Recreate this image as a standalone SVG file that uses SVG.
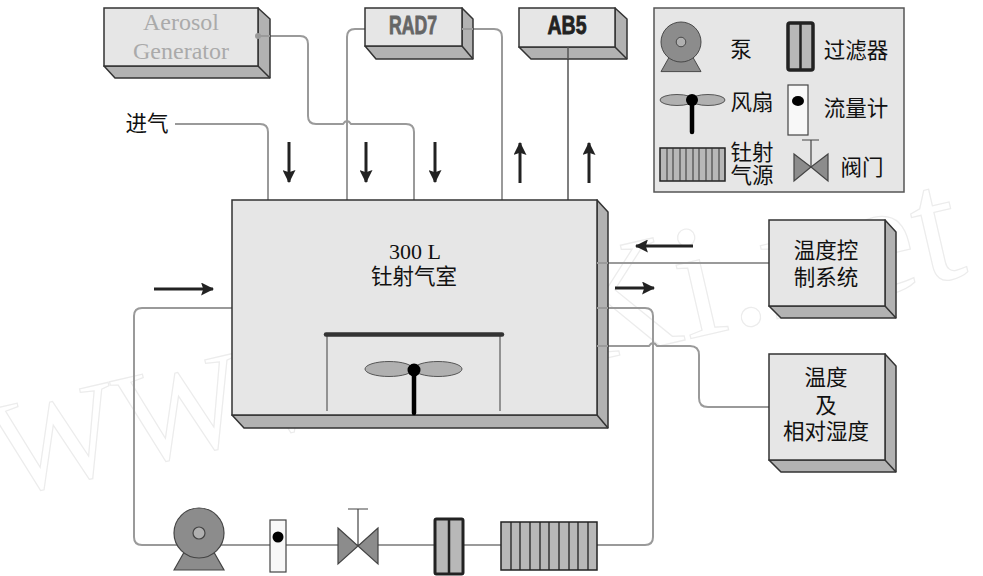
<svg xmlns="http://www.w3.org/2000/svg" width="983" height="576" viewBox="0 0 983 576">
<style>
text{font-family:"Liberation Serif","Noto Sans CJK SC",serif;fill:#111;text-anchor:middle;font-size:21.5px}
.wm{font-size:163px;fill:none;stroke:#ececec;stroke-width:1.2;text-anchor:start;letter-spacing:1px}
.f{fill:#e6e6e6;stroke:#333;stroke-width:1.5}
.s{fill:#b2b2b2;stroke:#333;stroke-width:1.5;stroke-linejoin:round}
.p{fill:none;stroke:#9a9a9a;stroke-width:2}
.a{fill:none;stroke:#222;stroke-width:3}
.g{fill:#8c8c8c;stroke:#444;stroke-width:1.2}
.c{fill:#b8b8b8;stroke:#222;stroke-width:1.5}
.lb{font-family:"Liberation Sans",sans-serif;font-weight:bold;font-size:25px;stroke-width:.8}
</style>
<defs>
<marker id="ah" viewBox="0 0 12 12" refX="11" refY="6" markerWidth="13" markerHeight="13" markerUnits="userSpaceOnUse" orient="auto"><path d="M0 0L12 6L0 12L2 6Z" fill="#222"/></marker>
<g id="pump"><path d="M-25 37L-12 14H12L25 37Z" class="g"/><circle r="25" class="g"/><circle r="6" fill="#b0b0b0" stroke="#444" stroke-width="1.2"/></g>
<g id="meter"><rect x="-8" y="-17" width="16" height="52" fill="#f8f8f8" stroke="#444" stroke-width="1.2"/><ellipse rx="5.5" ry="5.5" fill="#000"/></g>
<g id="valve"><path d="M-20 -18L0 0L-20 18Z M20 -18L0 0L20 18Z" class="g"/><path d="M0 0V-37M-10 -37H10" fill="none" stroke="#444" stroke-width="1.2"/></g>
<g id="filter"><rect x="-14" y="-27" width="28" height="55" rx="1.5" fill="#b8b8b8" stroke="#222" stroke-width="3"/><path d="M0 -27V28" stroke="#222" stroke-width="2.5"/></g>
</defs>
<text class="wm" transform="translate(4 497) rotate(-13)"><tspan style="font-size:135px">WWW</tspan>.cnKi.net</text>
<g id="connectors">
<path class="p" d="M175 124H260Q268 124 268 132V200"/>
<path class="p" d="M258 36H300Q308 36 308 44V116Q308 124 316 124H343Q347 118 351 124H406Q414 124 414 132V200"/>
<path class="p" d="M365 29H355Q347 29 347 37V200"/>
<path class="p" d="M462 29H494Q502 29 502 37V200"/>
<path d="M568 47V200" fill="none" stroke="#555" stroke-width="1.5"/>
<path class="p" d="M232 308H142Q134 308 134 316V537Q134 545 142 545H645Q653 545 653 537V316Q653 308 645 308H597"/>
<path class="p" d="M597 263H769"/>
<path class="p" d="M597 346H649Q653 340 657 346H690Q699 346 699 355V398Q699 407 708 407H769"/>
<path class="a" marker-end="url(#ah)" d="M289 142V182"/>
<path class="a" marker-end="url(#ah)" d="M366 142V182"/>
<path class="a" marker-end="url(#ah)" d="M435 142V182"/>
<path class="a" marker-end="url(#ah)" d="M520 183V143"/>
<path class="a" marker-end="url(#ah)" d="M589 183V143"/>
<path class="a" marker-end="url(#ah)" d="M154 289H213"/>
<path class="a" marker-end="url(#ah)" d="M693 246H636"/>
<path class="a" marker-end="url(#ah)" d="M615 288H654"/>
</g>
<g id="aerosol">
<path class="s" d="M258 8L270 19V78H115L104 66H258Z"/><path class="s" d="M258 66L270 78"/>
<rect class="f" x="104" y="8" width="154" height="58"/>
<text x="181" y="30" style="fill:#aaa;font-size:24px">Aerosol</text><text x="181" y="59" style="fill:#aaa;font-size:24px">Generator</text>
<path d="M258 36H270" stroke="#9a9a9a" stroke-width="2"/>
<circle cx="258" cy="36" r="3" fill="#999"/>
</g>
<g id="rad7">
<path class="s" d="M462 8L473 19V59H376L365 46H462Z"/><path class="s" d="M462 46L473 59"/>
<rect class="f" x="365" y="8" width="97" height="38"/>
<text class="lb" x="413" y="34" textLength="48" lengthAdjust="spacingAndGlyphs" style="fill:#666;stroke:#666">RAD7</text>
<path d="M462 29H473" stroke="#9a9a9a" stroke-width="2"/>
</g>
<g id="ab5">
<path class="s" d="M615 8L627 19V59H531L519 47H615Z"/><path class="s" d="M615 47L627 59"/>
<rect class="f" x="519" y="8" width="96" height="39"/>
<text class="lb" x="567" y="34" textLength="39" lengthAdjust="spacingAndGlyphs" style="fill:#222;stroke:#222">AB5</text>
<path d="M568 47V59" fill="none" stroke="#555" stroke-width="1.5"/>
</g>
<g id="chamber">
<path class="s" d="M597 200L608 212V428H244L232 415H597Z"/><path class="s" d="M597 415L608 428"/>
<rect class="f" x="232" y="200" width="365" height="215"/>
<path d="M597 263H608M597 308H608M597 346H608" stroke="#9a9a9a" stroke-width="2" fill="none"/>
<text x="415" y="259" style="font-size:22px">300 L</text><text x="414" y="284">钍射气室</text>
<path d="M327 334V411M500 334V411" fill="none" stroke="#777" stroke-width="1.5"/>
<path d="M326 334.500H502" stroke="#333" stroke-width="4.500" stroke-linecap="round"/>
<ellipse cx="389" cy="369" rx="24" ry="7.500" fill="#b0b0b0" stroke="#555"/>
<ellipse cx="438" cy="369" rx="24" ry="7.500" fill="#b0b0b0" stroke="#555"/>
<path d="M414 370V413" stroke="#000" stroke-width="4.500" stroke-linecap="round"/>
<circle cx="414" cy="370" r="6.500" fill="#000"/>
</g>
<g id="temp-control">
<path class="s" d="M885 220L896 232V318H781L769 306H885Z"/><path class="s" d="M885 306L896 318"/>
<rect class="f" x="769" y="220" width="116" height="86"/>
<text x="826" y="258">温度控</text><text x="826" y="285">制系统</text>
</g>
<g id="humidity">
<path class="s" d="M885 354L896 366V472H781L769 460H885Z"/><path class="s" d="M885 460L896 472"/>
<rect class="f" x="769" y="354" width="116" height="106"/>
<text x="826" y="385">温度</text><text x="826" y="413">及</text><text x="826" y="439">相对湿度</text>
</g>
<g id="inlet-label"><text x="147" y="131">进气</text></g>
<g id="pump-1"><use href="#pump" x="199" y="533"/></g>
<g id="flowmeter-1"><use href="#meter" x="278" y="537"/></g>
<g id="valve-1"><use href="#valve" x="358" y="546"/></g>
<g id="filter-1"><use href="#filter" x="449" y="546"/></g>
<g id="source-1">
<rect class="c" x="501" y="522" width="96" height="48"/>
<path d="M511 522V570M520 522V570M530 522V570M540 522V570M549 522V570M559 522V570M569 522V570M578 522V570M588 522V570" fill="none" stroke="#222" stroke-width="1.3"/>
</g>
<g id="legend">
<rect x="654" y="8" width="250" height="184" fill="#e6e6e6" stroke="#555" stroke-width="1.5"/>
<use href="#pump" transform="translate(681 42) scale(.8)"/>
<text x="741" y="57">泵</text>
<rect x="788" y="23" width="25" height="47" rx="2" fill="#b8b8b8" stroke="#222" stroke-width="3.500"/>
<path d="M800.500 23V70" stroke="#222" stroke-width="2.500"/>
<text x="856" y="58">过滤器</text>
<ellipse cx="677" cy="100" rx="17" ry="5.500" fill="#b0b0b0" stroke="#555"/>
<ellipse cx="708" cy="100" rx="17" ry="5.500" fill="#b0b0b0" stroke="#555"/>
<path d="M692 100V132" stroke="#000" stroke-width="4.500" stroke-linecap="round"/>
<circle cx="692" cy="100" r="6" fill="#000"/>
<text x="752" y="110">风扇</text>
<rect x="788" y="85" width="20" height="50" fill="#f8f8f8" stroke="#444" stroke-width="1.2"/>
<ellipse cx="798" cy="101" rx="6" ry="5" fill="#000"/>
<text x="856" y="116">流量计</text>
<rect class="c" x="660" y="148" width="65" height="33"/>
<path d="M667 148V181M673 148V181M680 148V181M686 148V181M693 148V181M699 148V181M706 148V181M712 148V181M719 148V181" fill="none" stroke="#333" stroke-width="1"/>
<text x="752" y="160">钍射</text><text x="752" y="183">气源</text>
<path d="M794 154L811 167L794 181Z M828 154L811 167L828 181Z" class="g"/>
<path d="M811 167V140M802 140H819" fill="none" stroke="#444" stroke-width="1.2"/>
<text x="862" y="175">阀门</text>
</g>
</svg>
